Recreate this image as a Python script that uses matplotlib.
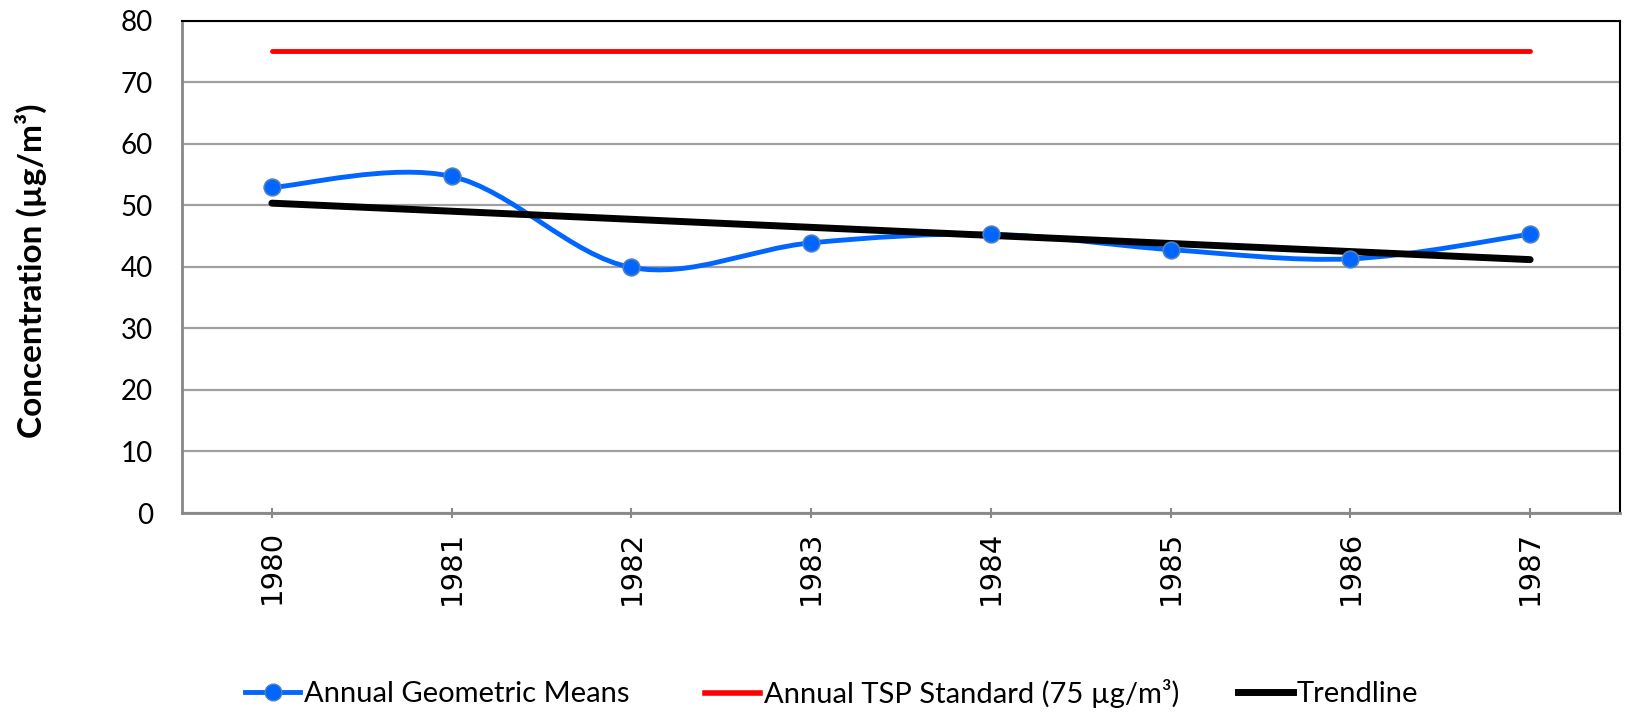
import numpy as np
import matplotlib.pyplot as plt
from matplotlib.path import Path
from matplotlib.patches import PathPatch
from matplotlib.lines import Line2D

# dati
years = ['1980', '1981', '1982', '1983', '1984', '1985', '1986', '1987']
geo_means = [52.9, 54.7, 39.9, 43.9, 45.3, 42.8, 41.3, 45.3]
tsp_standard = [75, 75, 75, 75, 75, 75, 75, 75]

x = np.arange(len(years))
y = np.array(geo_means)

# trendline lineare (come Excel)
coef = np.polyfit(x, y, 1)
trend = np.polyval(coef, x)

fig = plt.figure(figsize=(16.25, 7.14), dpi=100)
ax = fig.add_axes([182/1625, (714-513)/714, (1620-182)/1625, (513-20.7)/714])

blue = '#0066FF'
grid_c = '#A0A0A0'

# curva smussata tipo Excel: bezier con punti di controllo P_i +/- (P_{i+1}-P_{i-1})/6
pts = np.column_stack([x, y]).astype(float)
ext = np.vstack([pts[0], pts, pts[-1]])
verts = [tuple(pts[0])]
codes = [Path.MOVETO]
for i in range(len(pts)-1):
    p0, p1, p2, p3 = ext[i], ext[i+1], ext[i+2], ext[i+3]
    c1 = p1 + (p2 - p0)/6
    c2 = p2 - (p3 - p1)/6
    verts += [tuple(c1), tuple(c2), tuple(p2)]
    codes += [Path.CURVE4, Path.CURVE4, Path.CURVE4]
ax.add_patch(PathPatch(Path(verts, codes), facecolor='none', edgecolor=blue, lw=3.5, zorder=3))
ax.plot(x, y, 'o', color=blue, ms=12, mec='#4F81BD', mew=1.2, zorder=4)

ax.plot(x, tsp_standard, color='#FF0000', lw=3.5, solid_capstyle='round', zorder=3)
ax.plot(x, trend, color='black', lw=5, solid_capstyle='round', zorder=3)

ax.set_xlim(-0.5, len(years)-0.5)
ax.set_ylim(0, 80)
ax.set_yticks(np.arange(0, 81, 10))
ax.set_xticks(x)
ax.set_xticklabels(years, rotation=90, fontsize=21, family='DejaVu Sans')
for lab in ax.get_yticklabels():
    lab.set_fontsize(20)
    lab.set_family('Lato')
ax.tick_params(axis='y', length=0, pad=21)
ax.tick_params(axis='x', length=7, width=1.5, color='#888888', direction='inout', pad=9)
ax.yaxis.grid(True, color=grid_c, lw=1.6)
ax.set_axisbelow(True)

for s in ['left', 'bottom']:
    ax.spines[s].set_color('#888888')
    ax.spines[s].set_linewidth(2)
for s in ['top', 'right']:
    ax.spines[s].set_color('black')
    ax.spines[s].set_linewidth(1.5)

fig.text(31/1625, 1 - 271/714, 'Concentration (µg/m³)', rotation=90, fontsize=24,
         fontweight='bold', family='Lato', ha='center', va='center')

handles = [
    Line2D([], [], color=blue, lw=3.5, marker='o', ms=12, mec='#4F81BD'),
    Line2D([], [], color='#FF0000', lw=4),
    Line2D([], [], color='black', lw=5),
]
labels = ['Annual Geometric Means', 'Annual TSP Standard (75 µg/m³)', 'Trendline']
lefts = [245, 705, 1238]
for h, l, xl in zip(handles, labels, lefts):
    leg = fig.legend([h], [l], loc='center left', bbox_to_anchor=(xl/1625, 20/714),
                     frameon=False, handlelength=1.9, handletextpad=0.12,
                     borderpad=0, borderaxespad=0,
                     prop={'family': ['Lato', 'DejaVu Sans'], 'size': 21})

fig.savefig('out.png', dpi=100)
